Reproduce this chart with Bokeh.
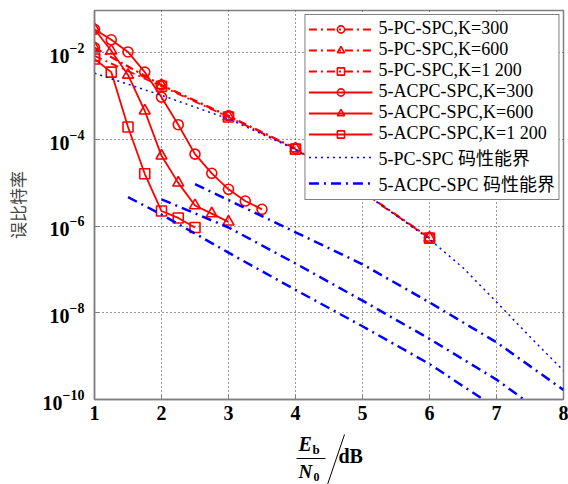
from bokeh.plotting import figure
from bokeh.models import Range1d, FixedTicker, LogTickFormatter, Legend, LegendItem
from bokeh.core.properties import value
from bokeh.layouts import column
from bokeh.embed import file_html
from bokeh.resources import INLINE

# ---------------- data ----------------
snr_pc = [1, 2, 3, 4, 5, 6]
ber_pc_300 = [1.32e-2, 1.82e-3, 3.55e-4, 6.3e-5, 6.3e-6, 5.4e-7]
ber_pc_600 = [1.30e-2, 1.78e-3, 3.40e-4, 6.2e-5, 6.2e-6, 5.4e-7]
ber_pc_1200 = [8.5e-3, 1.70e-3, 3.30e-4, 6.0e-5, 6.0e-6, 5.3e-7]

snr_acpc_300 = [1, 1.25, 1.5, 1.75, 2, 2.25, 2.5, 2.75, 3, 3.25, 3.5]
ber_acpc_300 = [3.5e-2, 2.0e-2, 1.05e-2, 3.6e-3, 9.5e-4, 2.2e-4, 4.6e-5, 1.66e-5, 7.1e-6, 3.8e-6, 2.45e-6]
snr_acpc_600 = [1, 1.25, 1.5, 1.75, 2, 2.25, 2.5, 2.75, 3]
ber_acpc_600 = [3.5e-2, 1.12e-2, 3.1e-3, 4.6e-4, 4.2e-5, 1.0e-5, 3.0e-6, 1.95e-6, 1.26e-6]
snr_acpc_1200 = [1, 1.25, 1.5, 1.75, 2, 2.25, 2.5]
ber_acpc_1200 = [7.2e-3, 3.6e-3, 1.95e-4, 1.62e-5, 2.24e-6, 1.55e-6, 9.3e-7]

snr_pc_bound = [1, 2, 3, 4, 5, 6, 6.5, 7, 7.5, 8]
ber_pc_bound = [3.4e-3, 1.05e-3, 3.0e-4, 5.9e-5, 6.3e-6, 5.0e-7, 1.1e-7, 1.78e-8, 2.8e-9, 4.6e-10]

snr_acpc_bound_300 = [2.5, 3, 4, 5, 6, 7, 8]
ber_acpc_bound_300 = [9.33e-6, 3.98e-6, 7.24e-7, 1.32e-7, 1.74e-8, 2.09e-9, 1.66e-10]
snr_acpc_bound_600 = [2, 3, 4, 5, 6, 7, 7.5]
ber_acpc_bound_600 = [4.17e-6, 9.33e-7, 1.38e-7, 1.91e-8, 2.51e-9, 2.88e-10, 7.9e-11]
snr_acpc_bound_1200 = [1.5, 2, 3, 4, 5, 6, 7]
ber_acpc_bound_1200 = [4.68e-6, 1.86e-6, 2.45e-7, 3.39e-8, 4.9e-9, 6.6e-10, 6.3e-11]

x_ticks = [1, 2, 3, 4, 5, 6, 7, 8]
y_ticks = [1e-10, 1e-8, 1e-6, 1e-4, 1e-2]

legend_labels = ["5-PC-SPC,K=300", "5-PC-SPC,K=600", "5-PC-SPC,K=1 200",
                 "5-ACPC-SPC,K=300", "5-ACPC-SPC,K=600", "5-ACPC-SPC,K=1 200",
                 "5-PC-SPC 码性能界", "5-ACPC-SPC 码性能界"]
y_label = "误比特率"

# ---------------- main figure ----------------
SERIF = "Liberation Serif"
RED = "#ff0000"
BLUE = "#0000ff"
W = 568
H1 = 430
H2 = 54
FL, FR = 94, 5   # frame borders

p = figure(width=W, height=H1, y_axis_type="log",
           x_range=Range1d(1, 8), y_range=Range1d(1e-10, 0.095),
           output_backend="svg", toolbar_location=None,
           min_border_left=FL, min_border_right=FR, min_border_top=10,
           min_border_bottom=31)

p.background_fill_color = "white"
p.border_fill_color = "white"
p.outline_line_color = "#7f7f7f"
p.outline_line_width = 1.5

p.xaxis.ticker = FixedTicker(ticks=x_ticks)
p.yaxis.ticker = FixedTicker(ticks=y_ticks)
p.yaxis.formatter = LogTickFormatter()

for ax in (p.xaxis, p.yaxis):
    ax.axis_line_color = "#7f7f7f"
    ax.axis_line_width = 1.5
    ax.major_tick_in = 5
    ax.major_tick_out = 0
    ax.major_tick_line_color = "#7f7f7f"
    ax.minor_tick_line_color = None
    ax.major_label_text_font = SERIF
    ax.major_label_text_font_style = "bold"
    ax.major_label_text_font_size = "20px"
    ax.major_label_text_color = "black"

p.xaxis.major_label_standoff = 6
p.yaxis.major_label_standoff = 10
p.yaxis.axis_label = y_label
p.yaxis.axis_label_text_font = "Noto Sans CJK SC"
p.yaxis.axis_label_text_font_style = "normal"
p.yaxis.axis_label_text_font_size = "17px"
p.yaxis.axis_label_standoff = 10

p.grid.grid_line_color = "#333333"
p.grid.grid_line_dash = "1 3"
p.grid.grid_line_width = 1

# ---------------- series ----------------
items = []

def series(xs, ys, marker, dash, label):
    ln = p.line(xs, ys, line_color=RED, line_width=1.8, line_dash=dash)
    sc = p.scatter(xs, ys, marker=marker, size=10 if marker != "triangle" else 11,
                   line_color=RED, line_width=1.6, fill_alpha=0)
    items.append(LegendItem(label=label, renderers=[ln, sc]))

DD = "8 4 2 4"
series(snr_pc, ber_pc_300, "circle", DD, legend_labels[0])
series(snr_pc, ber_pc_600, "triangle", DD, legend_labels[1])
series(snr_pc, ber_pc_1200, "square", DD, legend_labels[2])
series(snr_acpc_300, ber_acpc_300, "circle", "solid", legend_labels[3])
series(snr_acpc_600, ber_acpc_600, "triangle", "solid", legend_labels[4])
series(snr_acpc_1200, ber_acpc_1200, "square", "solid", legend_labels[5])

pb = p.line(snr_pc_bound, ber_pc_bound, line_color=BLUE, line_width=1.5, line_dash="2 4")
items.append(LegendItem(label=legend_labels[6], renderers=[pb]))

ab_dash = "10 5 2 5"
ab1 = p.line(snr_acpc_bound_300, ber_acpc_bound_300, line_color=BLUE, line_width=2.5, line_dash=ab_dash)
p.line(snr_acpc_bound_600, ber_acpc_bound_600, line_color=BLUE, line_width=2.5, line_dash=ab_dash)
p.line(snr_acpc_bound_1200, ber_acpc_bound_1200, line_color=BLUE, line_width=2.5, line_dash=ab_dash)
items.append(LegendItem(label=legend_labels[7], renderers=[ab1]))

legend = Legend(items=items, location="top_right")
legend.label_text_font = SERIF + ", Noto Sans CJK SC"
legend.label_text_font_size = "18px"
legend.label_text_color = "black"
legend.glyph_width = 64
legend.glyph_height = 18
legend.label_height = 18
legend.spacing = 0
legend.padding = 3
legend.margin = 4
legend.label_standoff = 6
legend.border_line_color = "black"
legend.border_line_width = 1
legend.background_fill_color = "white"
legend.background_fill_alpha = 1
p.add_layout(legend)

# ---------------- x-axis label strip: Eb/N0 / dB ----------------
# strip frame is aligned with the main frame; its data units equal page pixels
q = figure(width=W, height=H2, x_range=Range1d(FL, W - FR), y_range=Range1d(H2, 0),
           output_backend="svg", toolbar_location=None,
           x_axis_location=None, y_axis_location=None,
           min_border_left=FL, min_border_right=FR,
           min_border_top=0, min_border_bottom=0)
q.outline_line_color = None
q.grid.visible = False
q.background_fill_color = "white"
q.border_fill_color = "white"

def txt(x, y, t, size, style):
    q.text(x=[x], y=[y], text=[t], text_font=value(SERIF), text_font_size=size,
           text_font_style=style, text_baseline="middle", text_align="left",
           text_color="black")

txt(298, 13, "E", "20px", "bold italic")
txt(312, 19, "b", "13px", "bold")
txt(298, 41, "N", "19px", "bold italic")
txt(313, 46, "0", "12px", "bold")
txt(338, 25, "dB", "20px", "bold")
q.segment(x0=[296], y0=[28], x1=[325], y1=[28], line_color="black", line_width=1)
q.segment(x0=[344], y0=[4], x1=[327], y1=[54], line_color="black", line_width=1)

open("out.html", "w").write(file_html(column(p, q), INLINE))
